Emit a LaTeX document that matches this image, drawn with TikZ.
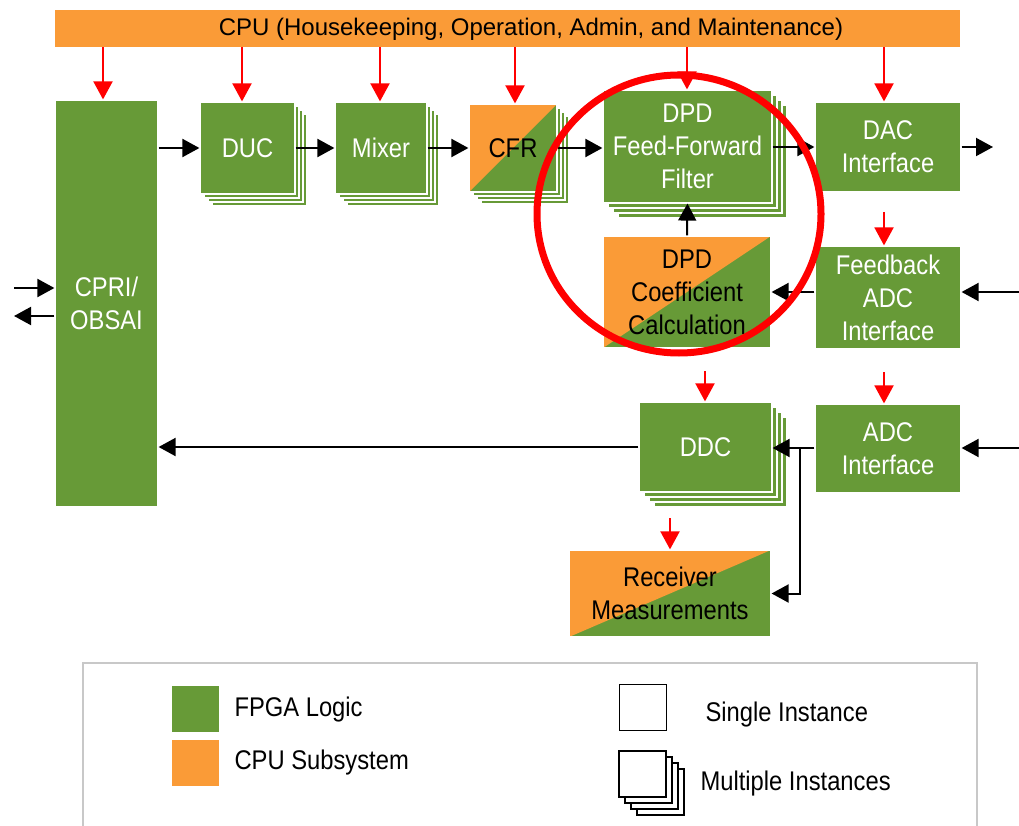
\documentclass[tikz,border=0pt]{standalone}
\usepackage{fontspec}
\setmainfont{Liberation Sans}[FakeStretch=0.88]
\newfontfamily\cpufont{Liberation Sans}
\usetikzlibrary{arrows.meta,calc}
\definecolor{fpga}{RGB}{103,154,55}
\definecolor{cpuc}{RGB}{250,155,55}
\definecolor{legendgray}{RGB}{200,200,200}
\newcommand{\backcopies}[5]{%
  \foreach \k in {3,2,1}{%
    \filldraw[fill=fpga,draw=white,line width=1.2pt] ({#1+#5*\k},{#2+#5*\k}) rectangle ++(#3,#4);}}
\begin{document}
\begin{tikzpicture}[x=1pt,y=-1pt,
  lbl/.style={font=\fontsize{27}{33}\selectfont, align=center},
  blk/.style={lbl, fill=fpga, draw=white, line width=1.2pt, text=white, inner sep=0pt},
  split/.style={blk, text=black, path picture={\fill[cpuc] (path picture bounding box.south west) -- (path picture bounding box.north west) -- (path picture bounding box.north east) -- cycle;}},
  arr/.style={-{Triangle[length=17pt,width=18pt]}, line width=2pt, black},
  rarr/.style={-{Triangle[length=18pt,width=19pt]}, line width=2pt, red},
  legsq/.style={minimum width=47pt, minimum height=46pt, inner sep=0pt},
  legtext/.style={lbl, anchor=west, text=black}
]
\useasboundingbox (0,0) rectangle (1019,826);
\clip (0,0) rectangle (1019,826);

% CPU bar
\node[fill=cpuc, minimum width=905pt, minimum height=37pt, inner sep=0pt] (cpu) at (507.5,28.5) {};
\node[font=\cpufont\fontsize{24}{27}\selectfont, text=black] (cputext) at (531,29.5) {CPU (Housekeeping, Operation, Admin, and Maintenance)};

% back copies of multi-instance blocks
\backcopies{200}{102}{95}{92}{4}
\backcopies{335}{102}{92}{92}{4}
\backcopies{469}{104}{88}{88}{4}
\backcopies{603}{90}{169}{113}{5}
\backcopies{639}{402}{133}{90}{5}

% blocks
\node[blk, minimum width=103pt, minimum height=407pt] (cpri) at (106.5,303.5) {CPRI/\\OBSAI};
\node[blk, minimum width=95pt, minimum height=92pt] (duc) at (247.5,148) {DUC};
\node[blk, minimum width=92pt, minimum height=92pt] (mixer) at (381,148) {Mixer};
\node[split, minimum width=88pt, minimum height=88pt] (cfr) at (513,148) {CFR};
\node[blk, minimum width=169pt, minimum height=113pt] (fff) at (687.5,146.5) {DPD\\Feed-Forward\\Filter};
\node[split, minimum width=168pt, minimum height=112pt] (cc) at (687,292) {DPD\\Coefficient\\Calculation};
\node[blk, minimum width=146pt, minimum height=90pt] (dac) at (888,147) {DAC\\Interface};
\node[blk, minimum width=146pt, minimum height=103pt] (fb) at (888,297.5) {Feedback\\ADC\\Interface};
\node[blk, minimum width=146pt, minimum height=89pt] (adc) at (888,448.5) {ADC\\Interface};
\node[blk, minimum width=133pt, minimum height=90pt] (ddc) at (705.5,447) {DDC};
\node[split, minimum width=202pt, minimum height=87pt] (rm) at (670,593.5) {Receiver\\Measurements};

% red control arrows
\draw[rarr] (cpu.south -| 103,0) -- (103,0 |- cpri.north);
\draw[rarr] (cpu.south -| 242,0) -- (242,0 |- duc.north);
\draw[rarr] (cpu.south -| 380,0) -- (380,0 |- mixer.north);
\draw[rarr] (cpu.south -| 515,0) -- (515,0 |- cfr.north);
\draw[rarr] (cpu.south -| 687,0) -- (687,0 |- fff.north);
\draw[rarr] (cpu.south -| 884,0) -- (884,0 |- dac.north);
\coordinate (rfb) at (884,212);
\draw[rarr] (rfb) -- (rfb |- fb.north);
\coordinate (radc) at (884,372);
\draw[rarr] (radc) -- (radc |- adc.north);
\coordinate (rddc) at (705,371);
\draw[rarr] (rddc) -- (rddc |- ddc.north);
\coordinate (rrm) at (670,518);
\draw[rarr] (rrm) -- (rrm |- rm.north);

% black data arrows
\draw[arr] (cpri.east |- duc.west) -- (duc.west);
\draw[arr] (duc.east) -- (mixer.west);
\draw[arr] (mixer.east) -- (cfr.west);
\draw[arr] (cfr.east) -- (cfr.east -| fff.west);
\draw[arr] (fff.east |- dac.west) -- (dac.west);
\coordinate (dacout) at (993,147);
\draw[arr] (dac.east) -- (dacout);
\coordinate (fbin) at (1025,292);
\draw[arr] (fbin) -- (fbin -| fb.east);
\draw[arr] (fb.west |- cc.east) -- (cc.east);
\draw[arr] (cc.north) -- (fff.south);
\coordinate (adcin) at (1025,448);
\draw[arr] (adcin) -- (adcin -| adc.east);
\draw[arr] (adc.west |- adcin) -- (ddc.east |- adcin);
\coordinate (br) at (800,448);
\draw[arr] (br) -- (br |- rm.east) -- (rm.east);
\draw[arr] (ddc.west) -- (ddc.west -| cpri.east);
\coordinate (cin) at (14,288);
\coordinate (cout) at (14,316);
\draw[arr] (cin) -- (cin -| cpri.west);
\draw[arr] (cpri.west |- cout) -- (cout);

% highlight circle
\draw[red, line width=7pt] (679,214) ellipse [x radius=142pt, y radius=139pt];

% legend
\draw[legendgray, line width=2pt] (83,663) rectangle (977,850);
\node[legsq, fill=fpga] (lfpga) at (195,708.5) {};
\node[legsq, fill=cpuc] (lcpu) at (195,763) {};
\node[legtext] (lfpgat) at (231,710) {FPGA Logic};
\node[legtext] (lcput) at (231,763) {CPU Subsystem};
\node[legsq, draw=black, line width=1.5pt, fill=white] (lsingle) at (643,707.5) {};
\node[legtext] (lsinglet) at (702,715) {Single Instance};
\foreach \k in {3,2,1}{\filldraw[fill=white,draw=black,line width=1.5pt] ({619+6*\k},{751+6*\k}) rectangle ++(47,46);}
\node[legsq, draw=black, line width=1.5pt, fill=white] (lmulti) at (642.5,774) {};
\node[legtext] (lmultit) at (697,784) {Multiple Instances};
\end{tikzpicture}
\end{document}
